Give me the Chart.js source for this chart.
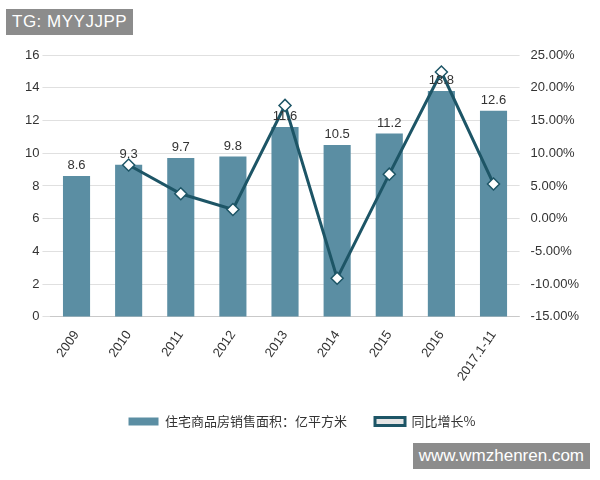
<!DOCTYPE html>
<html><head><meta charset="utf-8">
<script src="https://cdn.jsdelivr.net/npm/chart.js@4/dist/chart.umd.min.js"></script>
<style>
body{margin:0;background:#fff;font-family:"Noto Sans CJK SC","Liberation Sans",sans-serif}
#wrap{position:relative;width:600px;height:480px}
.wm{position:absolute;background:#8c8c8c;color:#fff;font-family:"Liberation Sans",Arial,sans-serif;font-size:17px;padding:3px 6px}
</style></head><body>
<div id="wrap"><canvas id="c" width="600" height="480"></canvas>
<div class="wm" style="left:6px;top:9px;letter-spacing:0.5px">TG: MYYJJPP</div>
<div class="wm" style="right:10px;top:443px;">www.wmzhenren.com</div>
</div>
<script>
const categories=["2009","2010","2011","2012","2013","2014","2015","2016","2017.1-11"];
const areaValues=[8.6,9.3,9.7,9.8,11.6,10.5,11.2,13.8,12.6];
const growthValues=[null,8.2,3.8,1.4,17.3,-9.1,6.8,22.4,5.3];
const labelsPlugin={id:'lbl',afterDatasetsDraw(ch){const ctx=ch.ctx;const m=ch.getDatasetMeta(0);ctx.save();ctx.font='13px "Liberation Sans",Arial';ctx.fillStyle='#333';ctx.textAlign='center';ctx.textBaseline='bottom';m.data.forEach((b,i)=>ctx.fillText(areaValues[i],b.x,b.y-4));ctx.restore();}};
new Chart(document.getElementById('c'),{
data:{labels:categories,datasets:[
{type:'bar',label:'住宅商品房销售面积：亿平方米',data:areaValues,backgroundColor:'#5b8ea3',yAxisID:'y',barPercentage:0.52,categoryPercentage:1,order:2},
{type:'line',label:'同比增长%',data:growthValues,borderColor:'#1d5566',borderWidth:3,pointStyle:'rectRot',pointRadius:6,pointBackgroundColor:'#fff',pointBorderColor:'#1d5566',pointBorderWidth:1.5,yAxisID:'y1',order:1,tension:0}
]},
options:{responsive:false,animation:false,
layout:{padding:{left:22,right:18,top:55,bottom:42}},
plugins:{legend:{position:'bottom',labels:{sort:(a,b)=>a.datasetIndex-b.datasetIndex,font:{size:13,family:'"Noto Sans CJK SC"'},color:'#333',boxWidth:30,boxHeight:8,padding:28}},tooltip:{enabled:false}},
scales:{
x:{grid:{display:false},ticks:{maxRotation:55,minRotation:55,color:'#333',font:{size:13}}},
y:{min:0,max:16,ticks:{stepSize:2,color:'#333',font:{size:13}},grid:{color:'#e0e0e0'},border:{display:false}},
y1:{position:'right',min:-15,max:25,ticks:{stepSize:5,color:'#333',font:{size:13},callback:v=>v.toFixed(2)+'%'},grid:{display:false},border:{display:false}}
}},
plugins:[labelsPlugin]});
</script></body></html>
